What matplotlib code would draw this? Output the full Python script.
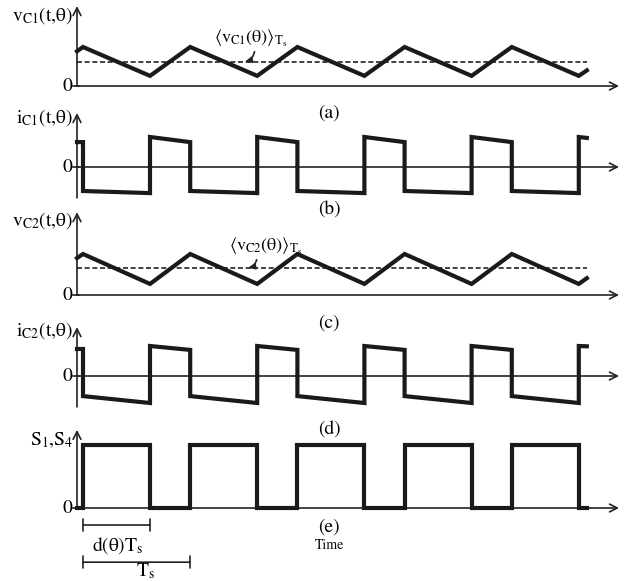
import matplotlib
matplotlib.use('Agg')
import matplotlib.pyplot as plt

plt.rcParams['font.family'] = ['STIXGeneral', 'DejaVu Serif']
plt.rcParams['mathtext.fontset'] = 'stix'

# time in units of the switching period Ts
t_start, t_stop, t_arrow = -0.056, 4.70, 5.0
duty = 0.625

# capacitor voltages (peak normalised to 1)
vc_t = [t_start, 0, 0.625, 1, 1.625, 2, 2.625, 3, 3.625, 4, 4.625, t_stop]
vc1 = [0.89, 1.0, 0.26, 1.0, 0.26, 1.0, 0.26, 1.0, 0.26, 1.0, 0.26, 0.40]
vc2 = [0.90, 1.0, 0.27, 1.0, 0.27, 1.0, 0.27, 1.0, 0.27, 1.0, 0.27, 0.41]
vc1_avg = 0.62
vc2_avg = 0.66

# capacitor currents (vertical jumps at every switching instant)
ic_t = [t_start, 0, 0, 0.625, 0.625, 1, 1, 1.625, 1.625, 2, 2, 2.625, 2.625,
        3, 3, 3.625, 3.625, 4, 4, 4.625, 4.625, t_stop]
ic1 = [0.83, 0.83, -0.80, -0.87, 1.0, 0.83, -0.80, -0.87, 1.0, 0.83, -0.80,
       -0.87, 1.0, 0.83, -0.80, -0.87, 1.0, 0.83, -0.80, -0.87, 1.0, 0.97]
ic2 = [0.90, 0.90, -0.67, -0.90, 1.0, 0.87, -0.67, -0.90, 1.0, 0.87, -0.67,
       -0.90, 1.0, 0.87, -0.67, -0.90, 1.0, 0.87, -0.67, -0.90, 1.0, 0.99]

# gate signal S1,S4
s_t = [t_start, 0, 0.625, 1, 1.625, 2, 2.625, 3, 3.625, 4, 4.625, t_stop]
s_val = [0, 1, 0, 1, 0, 1, 0, 1, 0, 1, 0, 0]

W, H = 629, 581
fig = plt.figure(figsize=(W / 100, H / 100), dpi=100)

x0_px, tper_px = 83, 107.2
wave = dict(color='#1a1a1a', lw=3.0, solid_joinstyle='miter', zorder=3)
axis_kw = dict(color='#222222', lw=1.2)


def panel(top, bot, zero, ppu):
    ax = fig.add_axes([0, 1 - bot / H, 1, (bot - top) / H])
    ax.set_xlim(-x0_px / tper_px, (W - x0_px) / tper_px)
    ax.set_ylim(-(bot - zero) / ppu, (zero - top) / ppu)
    ax.axis('off')
    return ax


def axes_arrows(ax, y_tip, y_bot=0.0):
    arr = dict(arrowstyle='->,head_length=0.55,head_width=0.28',
               shrinkA=0, shrinkB=0, **axis_kw)
    ax.annotate('', xy=(t_arrow, 0), xytext=(t_start, 0), arrowprops=arr)
    ax.annotate('', xy=(t_start, y_tip), xytext=(t_start, y_bot), arrowprops=arr)
    ax.plot([t_start - 0.035, t_start + 0.02], [0, 0], **axis_kw)


def ftext(x, y, s, size=14, ha='center'):
    fig.text(x / W, 1 - y / H, s, fontsize=size, ha=ha, va='center')


avg_arrow = dict(arrowstyle='-|>,head_length=0.4,head_width=0.18',
                 color='#222222', lw=1.2, connectionstyle='arc3,rad=-0.3',
                 shrinkA=0, shrinkB=0)

# (a) vC1
ax = panel(0, 100, 86, 39)
axes_arrows(ax, 2.05)
ax.plot(vc_t, vc1, **wave)
ax.plot([t_start, t_stop], [vc1_avg, vc1_avg], color='#222222', lw=1.2,
        ls=(0, (3, 1.6)))
ax.text(1.56, 1.23, r'$\langle\mathrm{v_{C1}(θ)}\rangle_{\mathrm{T_s}}$',
        fontsize=13, ha='center', va='center')
ax.annotate('', xy=(1.51, vc1_avg), xytext=(1.60, 0.88), arrowprops=avg_arrow)

# (b) iC1
ax = panel(100, 205, 167, 30)
axes_arrows(ax, 1.8, -1.03)
ax.plot(ic_t, ic1, **wave)

# (c) vC2
ax = panel(205, 305, 295, 41)
axes_arrows(ax, 2.02)
ax.plot(vc_t, vc2, **wave)
ax.plot([t_start, t_stop], [vc2_avg, vc2_avg], color='#222222', lw=1.2,
        ls=(0, (3, 1.6)))
ax.text(1.70, 1.18, r'$\langle\mathrm{v_{C2}(θ)}\rangle_{\mathrm{T_s}}$',
        fontsize=13, ha='center', va='center')
ax.annotate('', xy=(1.54, vc2_avg), xytext=(1.62, 0.86), arrowprops=avg_arrow)

# (d) iC2
ax = panel(315, 415, 376, 30)
axes_arrows(ax, 1.63, -1.03)
ax.plot(ic_t, ic2, **wave)

# (e) S1,S4 with duty-cycle and period brackets
ax = panel(420, 581, 508, 63)
axes_arrows(ax, 1.24)
ax.step(s_t, s_val, where='post', **wave)
bracket = dict(arrowstyle='|-|,widthA=0.45,widthB=0.45', color='#222222',
               lw=1.2, shrinkA=0, shrinkB=0)
ax.annotate('', xy=(0, -0.27), xytext=(duty, -0.27), arrowprops=bracket)
ax.annotate('', xy=(0, -0.86), xytext=(1, -0.86), arrowprops=bracket)
ax.text(0.32, -0.59, r'$\mathrm{d(θ)T_s}$', fontsize=14, ha='center', va='center')
ax.text(0.58, -1.0, r'$\mathrm{T_s}$', fontsize=14, ha='center', va='center')

# left-hand signal names and zero marks
ftext(73, 16, r'$\mathrm{v_{C1}(t{,}θ)}$', ha='right')
ftext(73, 118, r'$\mathrm{i_{C1}(t{,}θ)}$', ha='right')
ftext(73, 221, r'$\mathrm{v_{C2}(t{,}θ)}$', ha='right')
ftext(73, 331, r'$\mathrm{i_{C2}(t{,}θ)}$', ha='right')
ftext(73, 440, r'$\mathrm{S_1{,}S_4}$', ha='right')
for zy in [86, 167, 295, 376, 508]:
    ftext(72, zy, '0', ha='right')

# panel captions
ftext(329, 113, '(a)')
ftext(329, 210, '(b)')
ftext(329, 323, '(c)')
ftext(329, 430, '(d)')
ftext(329, 527, '(e)')
ftext(329, 545, 'Time', size=10)

fig.savefig('out.png', dpi=100)
plt.close(fig)
